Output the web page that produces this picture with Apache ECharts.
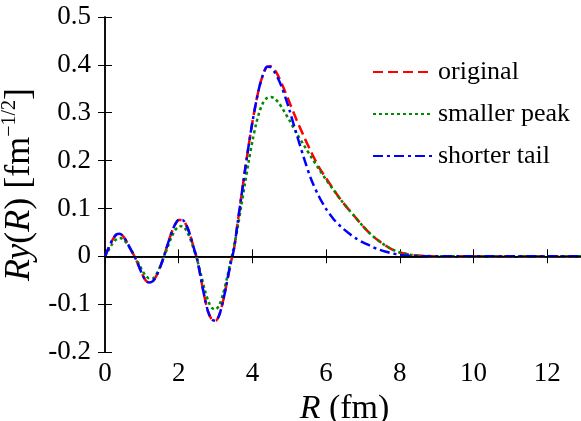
<!DOCTYPE html>
<html>
<head>
<meta charset="utf-8">
<script src="https://cdn.jsdelivr.net/npm/echarts@6/dist/echarts.min.js"></script>
<style>
html,body{margin:0;padding:0;background:#fff;}
#chart{width:581px;height:421px;}
</style>
</head>
<body>
<div id="chart"></div>
<script>
// R grid (fm)
var R = [0,0.1,0.2,0.3,0.4,0.5,0.6,0.7,0.8,0.9,1.0,1.1,1.2,1.3,1.4,1.5,1.6,1.7,1.8,1.9,2.0,2.1,2.2,2.3,2.4,2.5,2.6,2.7,2.8,2.9,3.0,3.1,3.2,3.3,3.4,3.5,3.6,3.7,3.8,3.9,4.0,4.1,4.2,4.3,4.4,4.5,4.6,4.7,4.8,4.9,5.0,
  5.2,5.4,5.6,5.8,6.0,6.2,6.4,6.6,6.8,7.0,7.2,7.4,7.6,7.8,8.0,8.3,8.6,9.0,10,11,12,13];

var original = [0,0.018,0.034,0.045,0.047,0.041,0.029,0.014,0.000,
  -0.017,-0.036,-0.050,-0.055,-0.052,-0.040,-0.022,0.000,
  0.025,0.048,0.066,0.076,0.076,0.066,0.047,0.020,-0.006,
  -0.045,-0.085,-0.116,-0.132,-0.135,-0.123,-0.095,-0.058,-0.018,0.015,
  0.070,0.125,0.180,0.232,0.280,0.322,0.357,0.382,0.396,0.397,
  0.390,0.377,0.360,0.342,0.323,
  0.285,0.250,0.217,0.187,0.163,0.140,0.118,0.099,0.081,0.063,0.047,0.034,0.023,0.014,0.008,
  0.003,0.001,0,0,0,0,0];

var smallerPeak = [0,0.013,0.026,0.035,0.038,0.035,0.026,0.014,0.001,
  -0.013,-0.028,-0.040,-0.046,-0.046,-0.037,-0.021,-0.002,
  0.019,0.039,0.054,0.062,0.063,0.055,0.039,0.017,-0.007,
  -0.037,-0.068,-0.093,-0.108,-0.111,-0.102,-0.080,-0.049,-0.014,0.020,
  0.060,0.106,0.153,0.198,0.240,0.276,0.304,0.322,0.331,0.333,
  0.330,0.322,0.311,0.298,0.285,
  0.257,0.232,0.207,0.183,0.160,0.139,0.118,0.099,0.081,0.063,0.047,0.034,0.023,0.014,0.008,
  0.003,0.001,0,0,0,0,0];

var shorterTail = [0,0.018,0.034,0.045,0.047,0.041,0.029,0.014,0.000,
  -0.017,-0.036,-0.050,-0.055,-0.052,-0.040,-0.022,0.000,
  0.025,0.048,0.066,0.076,0.076,0.066,0.047,0.020,-0.006,
  -0.045,-0.085,-0.116,-0.132,-0.135,-0.123,-0.095,-0.058,-0.018,0.015,
  0.070,0.125,0.180,0.232,0.280,0.322,0.357,0.382,0.396,0.395,
  0.385,0.371,0.353,0.331,0.307,
  0.255,0.205,0.160,0.126,0.099,0.078,0.062,0.049,0.038,0.029,0.022,0.015,0.010,0.006,0.003,
  0.001,0,0,0,0,0,0];

var seriesNames = ['original','smaller peak','shorter tail'];
var xTicks = {min:0, max:13, interval:2};
var yTicks = {min:-0.2, max:0.5, interval:0.1};

function pairs(ys){ return R.map(function(r,i){ return [r, ys[i]]; }); }

var FONT = "'Liberation Serif','Times New Roman',serif";
var chart = echarts.init(document.getElementById('chart'), null, {renderer:'canvas'});

var axisLine = {show:true, lineStyle:{color:'#000', width:1.5}};
var axisTick = {show:true, inside:true, length:7, lineStyle:{color:'#000', width:1}};

chart.setOption({
  animation:false,
  backgroundColor:'#fff',
  textStyle:{fontFamily:FONT},
  grid:{left:105, top:17, width:479, height:335, containLabel:false, outerBoundsMode:'none'},
  legend:{
    orient:'vertical', left:367, top:54, itemWidth:60, itemHeight:14, itemGap:16,
    data: seriesNames,
    itemStyle:{opacity:0},
    textStyle:{fontFamily:FONT, fontSize:26, color:'#000', lineHeight:26}
  },
  xAxis:[{
    type:'value', min:xTicks.min, max:xTicks.max, interval:xTicks.interval, position:'bottom',
    axisLine:axisLine, axisTick:axisTick, splitLine:{show:false},
    axisLabel:{fontFamily:FONT, fontSize:27, color:'#000', margin:8, showMaxLabel:false},
    name:'{i|R} (fm)', nameLocation:'middle', nameGap:33,
    nameTextStyle:{fontFamily:FONT, fontSize:34, color:'#000', rich:{i:{fontStyle:'italic', fontFamily:FONT, fontSize:34}}}
  },{
    type:'value', min:xTicks.min, max:xTicks.max, interval:xTicks.interval, position:'top',
    axisLine:axisLine, axisTick:axisTick, splitLine:{show:false}, axisLabel:{show:false}
  }],
  yAxis:[{
    type:'value', min:yTicks.min, max:yTicks.max, interval:yTicks.interval, position:'left',
    axisLine:axisLine, axisTick:axisTick, splitLine:{show:false},
    axisLabel:{fontFamily:FONT, fontSize:27, color:'#000', margin:14,
      formatter:function(v){ return Math.abs(v)<1e-9 ? '0' : v.toFixed(1); }},
    name:'{i|Ry}{n|(}{i|R}{n|) [fm}{s|\u22121/2}{n|]}', nameLocation:'middle', nameGap:52, nameRotate:90,
    nameTextStyle:{fontFamily:FONT, fontSize:36, color:'#000',
      rich:{
        i:{fontStyle:'italic', fontFamily:FONT, fontSize:36, lineHeight:40},
        n:{fontFamily:FONT, fontSize:36, lineHeight:40},
        s:{fontFamily:FONT, fontSize:20, lineHeight:20, verticalAlign:'top'}
      }}
  },{
    type:'value', min:yTicks.min, max:yTicks.max, interval:yTicks.interval, position:'right',
    axisLine:axisLine, axisTick:axisTick, splitLine:{show:false}, axisLabel:{show:false}
  }],
  series:[
    {name:seriesNames[0], type:'line', xAxisIndex:0, yAxisIndex:0, data:pairs(original), smooth:0.3,
      showSymbol:false, symbol:'none', color:'#ff0000',
      lineStyle:{color:'#ff0000', width:2.5, type:[10,5]},
      markLine:{silent:true, symbol:['none','none'], label:{show:false},
        lineStyle:{color:'#000', width:1.2, type:'solid'}, data:[{yAxis:0}]}
    },
    {name:seriesNames[1], type:'line', xAxisIndex:0, yAxisIndex:0, data:pairs(smallerPeak), smooth:0.3,
      showSymbol:false, symbol:'none', color:'#008a00',
      lineStyle:{color:'#008a00', width:2.5, type:[3,3]}},
    {name:seriesNames[2], type:'line', xAxisIndex:0, yAxisIndex:0, data:pairs(shorterTail), smooth:0.3,
      showSymbol:false, symbol:'none', color:'#0000ff',
      lineStyle:{color:'#0000ff', width:2.5, type:[10,4,3,4]}}
  ]
});
</script>
</body>
</html>
